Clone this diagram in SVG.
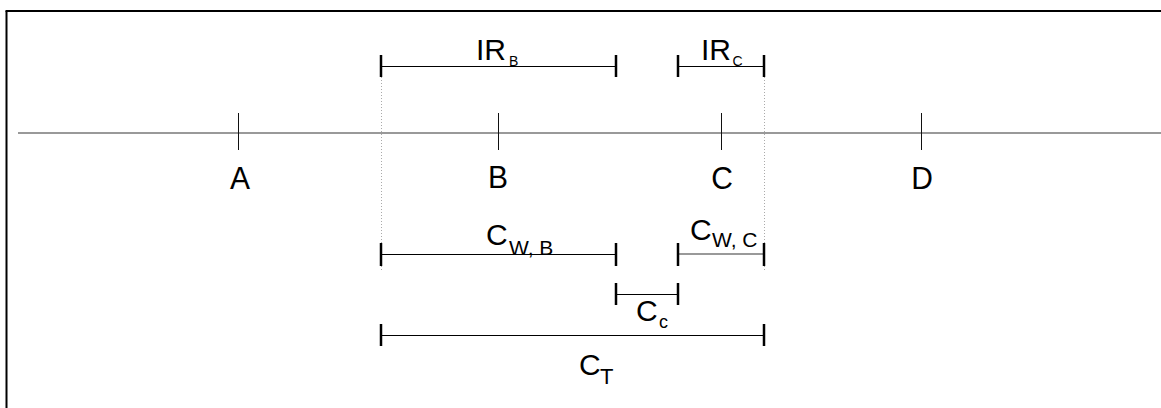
<svg xmlns="http://www.w3.org/2000/svg" width="1161" height="408" viewBox="0 0 1161 408">
<style>
.t{font-family:"Liberation Sans",Arial,sans-serif;fill:#000}
.m{font-size:30px}
.bar{stroke:#000;stroke-width:1}
.cap{stroke:#000;stroke-width:2.5}
.tick{stroke:#111;stroke-width:1}
.dot{stroke:#aaa;stroke-width:1;stroke-dasharray:1,2}
</style>
<rect width="1161" height="408" fill="#fff"/>
<g id="frame">
<line x1="6.5" y1="11" x2="6.5" y2="408" stroke="#000" stroke-width="2"/>
<line x1="5.5" y1="11" x2="1161" y2="11" stroke="#000" stroke-width="2"/>
</g>
<g id="connectors">
<line x1="18" y1="133" x2="1161" y2="133" stroke="#777" stroke-width="1.5"/>
<line class="dot" x1="381.5" y1="77" x2="381.5" y2="272"/>
<line class="dot" x1="764.5" y1="77" x2="764.5" y2="272"/>
</g>
<g id="A"><line class="tick" x1="238.5" y1="113" x2="238.5" y2="150"/><text class="t m" x="240" y="189" text-anchor="middle" transform="translate(0,189) scale(1,1.06) translate(0,-189)">A</text></g>
<g id="B"><line class="tick" x1="498.5" y1="113" x2="498.5" y2="150"/><text class="t m" x="498" y="188" text-anchor="middle" transform="translate(0,188) scale(1,1.06) translate(0,-188)">B</text></g>
<g id="C"><line class="tick" x1="721.5" y1="113" x2="721.5" y2="150"/><text class="t m" x="722" y="189" text-anchor="middle" transform="translate(0,189) scale(1,1.06) translate(0,-189)">C</text></g>
<g id="D"><line class="tick" x1="921.5" y1="113" x2="921.5" y2="150"/><text class="t m" x="922" y="189" text-anchor="middle" transform="translate(0,189) scale(1,1.06) translate(0,-189)">D</text></g>
<g id="IRB">
<line class="bar" x1="381" y1="66.5" x2="616" y2="66.5"/>
<line class="cap" x1="381" y1="55" x2="381" y2="77"/><line class="cap" x1="616" y1="55" x2="616" y2="77"/>
<text class="t m" x="476" y="60">IR</text><text class="t" x="509" y="65.5" font-size="14">B</text>
</g>
<g id="IRC">
<line class="bar" x1="678" y1="66.5" x2="764" y2="66.5"/>
<line class="cap" x1="678" y1="55" x2="678" y2="77"/><line class="cap" x1="764" y1="55" x2="764" y2="77"/>
<text class="t m" x="701" y="60">IR</text><text class="t" x="732.5" y="66" font-size="14">C</text>
</g>
<g id="CWB">
<line class="bar" x1="381" y1="254.5" x2="616" y2="254.5"/>
<line class="cap" x1="381" y1="243" x2="381" y2="266"/><line class="cap" x1="616" y1="243" x2="616" y2="266"/>
<text class="t m" x="486" y="245">C</text><text class="t" x="509" y="255" font-size="21">W, B</text>
</g>
<g id="CWC">
<line x1="678" y1="254" x2="764" y2="254" stroke="#777" stroke-width="1.5"/>
<line class="cap" x1="678" y1="243" x2="678" y2="266"/><line class="cap" x1="764" y1="243" x2="764" y2="266"/>
<text class="t m" x="690" y="240">C</text><text class="t" x="712" y="247" font-size="21">W, C</text>
</g>
<g id="Cc">
<line class="bar" x1="616" y1="294.5" x2="678" y2="294.5"/>
<line class="cap" x1="616" y1="283" x2="616" y2="305"/><line class="cap" x1="678" y1="283" x2="678" y2="305"/>
<text class="t m" x="636" y="321">C</text><text class="t" x="659" y="328" font-size="18">c</text>
</g>
<g id="CT">
<line class="bar" x1="381" y1="335.5" x2="764" y2="335.5"/>
<line class="cap" x1="381" y1="324" x2="381" y2="346"/><line class="cap" x1="764" y1="324" x2="764" y2="346"/>
<text class="t m" x="579" y="375">C</text><text class="t" x="600" y="384" font-size="22">T</text>
</g>
</svg>
